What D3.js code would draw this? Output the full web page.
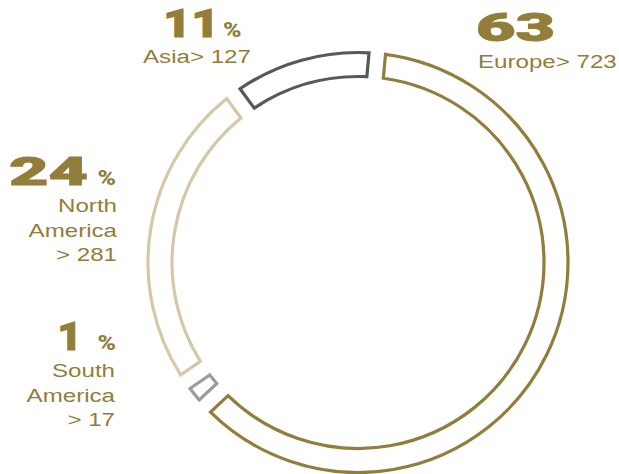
<!DOCTYPE html>
<html>
<head>
<meta charset="utf-8">
<script src="https://cdn.jsdelivr.net/npm/d3@7/dist/d3.min.js"></script>
<style>
  body { margin: 0; background: #fff; }
</style>
</head>
<body>
<div id="chart"></div>
<script>
// data, clockwise from 12 o'clock
const regions = ["Europe", "South America", "North America", "Asia"];
const counts = [723, 17, 281, 127];
const shares = [63, 1, 24, 11];

const width = 619, height = 474;
const cx = 358, cy = 262.5;
const gold = "#927d3b";

const color = d3.scaleOrdinal()
    .domain(regions)
    .range(["#927d3b", "#9c9ca0", "#d4c8a8", "#58585a"]);

// text blocks, placed by hand like the original layout
// (sx: horizontal stretch of the big figure, the "1" glyphs need less)
const labelLayout = {
    "Europe":        { anchor: "start", numX: 476, numY: 41, sx: 1.75, pct: false, lineX: 478, lineY: 68 },
    "Asia":          { anchor: "start", numX: 163, numY: 37, sx: 1.25, pct: true, pctX: 223, lineX: 143, lineY: 63 },
    "North America": { anchor: "end", numX: 88, numY: 185, sx: 1.75, pct: true, pctX: 116, lineX: 117, lineY: 212 },
    "South America": { anchor: "end", numX: 82, numY: 350, sx: 1.1, pct: true, pctX: 116, lineX: 115, lineY: 377 }
};

const svg = d3.select("#chart").append("svg")
    .attr("width", width).attr("height", height);

const rows = regions.map((r, i) => ({ region: r, count: counts[i], share: shares[i] }));

const start = 0.092;
const pie = d3.pie().sort(null).value(d => d.count)
    .startAngle(start).endAngle(start + 2 * Math.PI)
    .padAngle(0.059);

const arc = d3.arc().innerRadius(186).outerRadius(210);

svg.append("g")
    .attr("transform", `translate(${cx},${cy})`)
    .selectAll("path")
    .data(pie(rows)).enter().append("path")
    .attr("d", arc)
    .attr("fill", "#fff")
    .attr("stroke", d => color(d.data.region))
    .attr("stroke-width", 3.2)
    .attr("stroke-linejoin", "miter");

const sxs = 1.27;

rows.forEach(d => {
    const L = labelLayout[d.region];
    const g = svg.append("g").attr("fill", gold);

    g.append("text")
        .attr("transform", `translate(${L.numX},${L.numY}) scale(${L.sx},1)`)
        .attr("text-anchor", L.anchor)
        .attr("font-family", "Roboto, sans-serif")
        .attr("font-weight", 900)
        .attr("font-size", 39)
        .attr("stroke", gold)
        .attr("stroke-width", 0.9)
        .text(d.share);

    if (L.pct) {
        g.append("text")
            .attr("transform", `translate(${L.pctX},${L.numY}) scale(1.25,1)`)
            .attr("text-anchor", L.anchor)
            .attr("font-family", "Roboto, sans-serif")
            .attr("font-weight", 900)
            .attr("font-size", 20)
            .text("%");
    }

    const lines = d.region.includes(" ")
        ? [...d.region.split(" "), "> " + d.count]
        : [d.region + "> " + d.count];

    lines.forEach((t, j) => {
        g.append("text")
            .attr("transform", `translate(${L.lineX},${L.lineY + j * 24.5}) scale(${sxs},1)`)
            .attr("text-anchor", L.anchor)
            .attr("font-family", "Liberation Sans, Arial, sans-serif")
            .attr("font-size", 19)
            .text(t);
    });
});
</script>
</body>
</html>
